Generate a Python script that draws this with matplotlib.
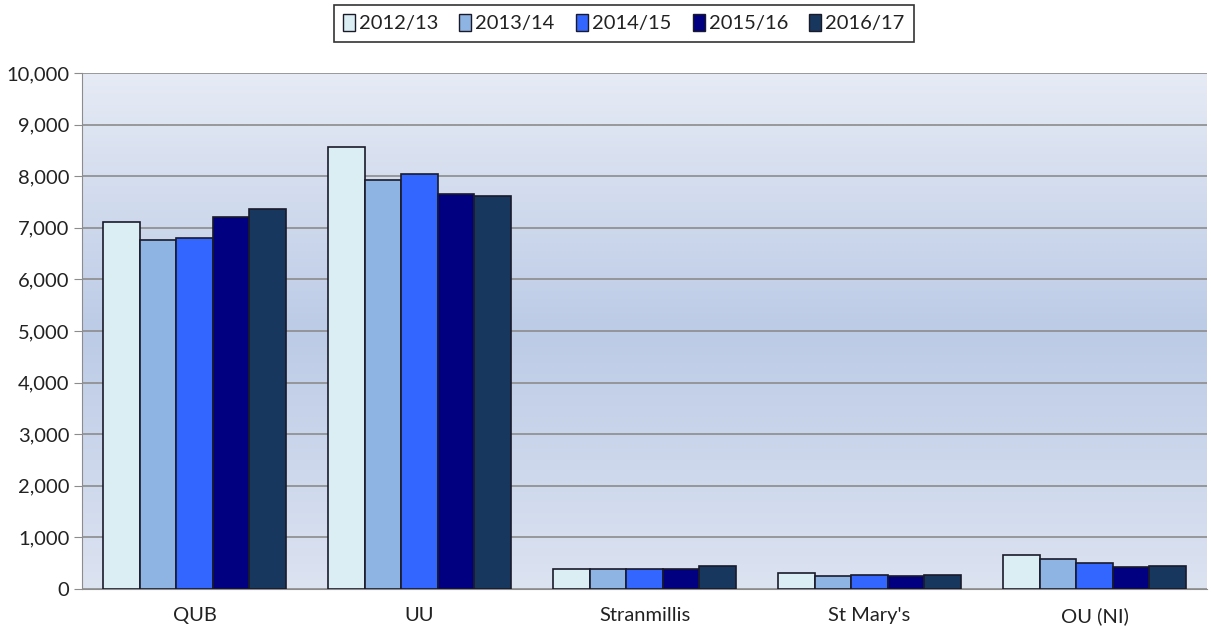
import numpy as np
import matplotlib.pyplot as plt
from matplotlib.patches import Patch
from matplotlib.colors import LinearSegmentedColormap

plt.rcParams['font.family'] = ['Lato', 'DejaVu Sans']

# Data
institutions = ['QUB', 'UU', 'Stranmillis', "St Mary's", 'OU (NI)']
years = ['2012/13', '2013/14', '2014/15', '2015/16', '2016/17']
v_2012 = [7115, 8575, 390, 310, 665]
v_2013 = [6765, 7925, 390, 258, 581]
v_2014 = [6805, 8045, 390, 277, 504]
v_2015 = [7205, 7655, 390, 258, 419]
v_2016 = [7365, 7620, 451, 277, 451]
series = [v_2012, v_2013, v_2014, v_2015, v_2016]
colors = ['#DAEEF3', '#8DB4E2', '#3366FF', '#000080', '#17375E']

fig = plt.figure(figsize=(12.11, 6.35), dpi=100)
ax = fig.add_axes([82 / 1211, 1 - 589 / 635, 1125 / 1211, 516 / 635])

# gradient background
bg = LinearSegmentedColormap.from_list('bg', ['#E6EBF5', '#BCCBE6', '#DCE3F1'])
grad = np.linspace(0, 1, 256).reshape(-1, 1)
ax.imshow(grad, cmap=bg, aspect='auto', extent=[-0.5, 4.5, 0, 10000],
          origin='upper', zorder=0)

x = np.arange(len(institutions))
w = 0.162
for i, (vals, c) in enumerate(zip(series, colors)):
    ax.bar(x + (i - 2) * w, vals, w, color=c, edgecolor='#1a1a2a',
           linewidth=1.2, zorder=3, label=years[i])

ax.set_xlim(-0.5, 4.5)
ax.set_ylim(0, 10000)
ax.set_yticks(range(0, 10001, 1000))
ax.set_yticklabels([f'{v:,}' for v in range(0, 10001, 1000)])
ax.set_xticks(x)
ax.set_xticklabels(institutions)
ax.yaxis.grid(True, color='#8C8C8C', linewidth=1.2, zorder=1)
ax.set_axisbelow(True)
for s in ['top', 'right']:
    ax.spines[s].set_visible(False)
ax.spines['left'].set_color('#8C8C8C')
ax.spines['bottom'].set_color('#8C8C8C')
ax.tick_params(axis='y', length=6, color='#8C8C8C', labelsize=14.5, pad=3,
               labelcolor='#222222')
ax.tick_params(axis='x', length=0, labelsize=14.5, pad=13, labelcolor='#222222')

handles = [Patch(facecolor=c, edgecolor='#1a1a2a', label=y) for c, y in zip(colors, years)]
leg = fig.legend(handles=handles, loc='upper center', bbox_to_anchor=(0.515, 0.992),
                 ncol=5, frameon=True, fontsize=14.5, handlelength=0.6,
                 handleheight=0.9, handletextpad=0.2, columnspacing=1.05,
                 fancybox=False, borderpad=0.45, borderaxespad=0.0)
leg.get_frame().set_edgecolor('black')
leg.get_frame().set_linewidth(1.2)
for t in leg.get_texts():
    t.set_color('#222222')

fig.savefig('out.png', dpi=100, facecolor='white')
